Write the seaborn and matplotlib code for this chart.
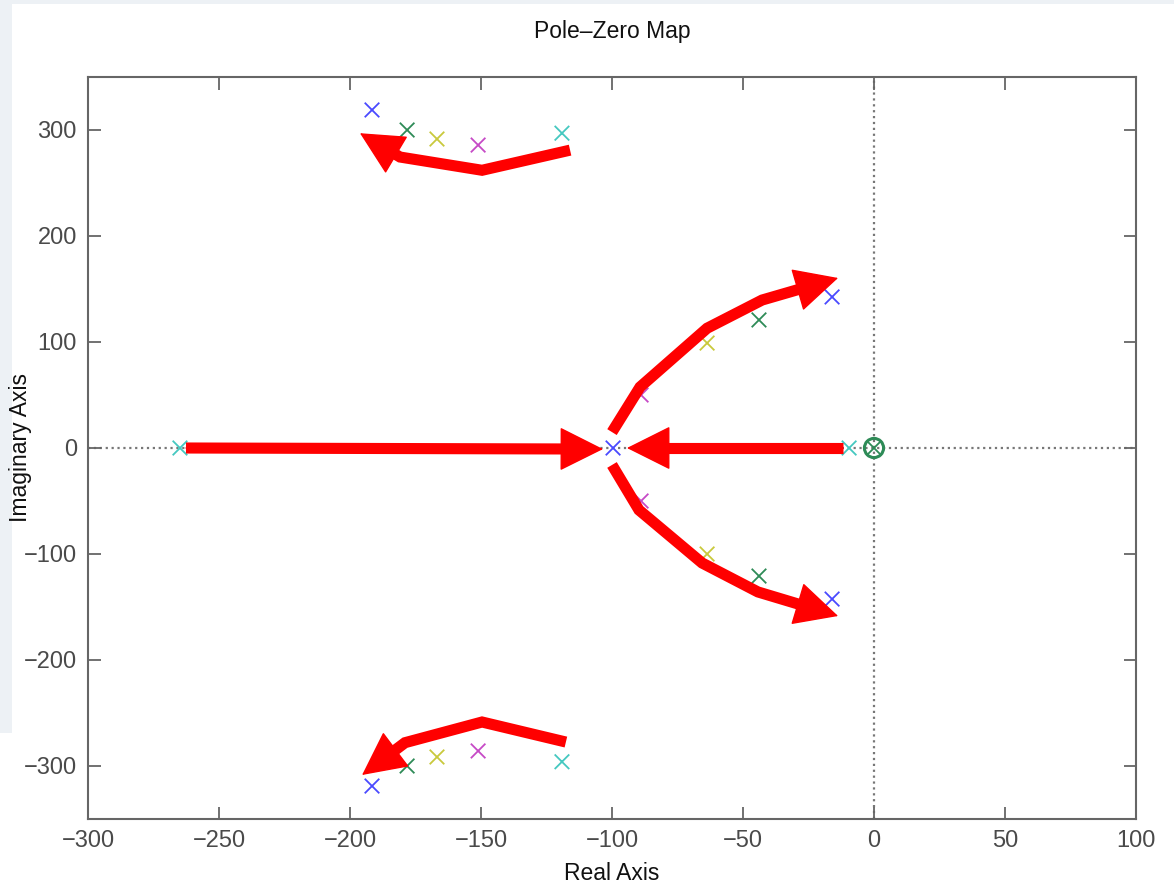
import numpy as np
import pandas as pd
import matplotlib
matplotlib.use("Agg")
import matplotlib.pyplot as plt
import seaborn as sns
from matplotlib.patches import FancyArrowPatch, Rectangle

# poles (real, imag) per colour group
blue_re = [-191.6, -16.0, -99.6, -16.0, -191.6]
blue_im = [318.9, 142.5, 0.0, -142.5, -318.9]
green_re = [-178.2, -43.9, 0.0, -43.9, -178.2]
green_im = [300.0, 120.8, 0.0, -120.8, -300.0]
yellow_re = [-166.8, -63.7, -63.7, -166.8]
yellow_im = [291.5, 99.0, -100.0, -291.5]
magenta_re = [-151.1, -88.9, -88.9, -151.1]
magenta_im = [285.8, 50.0, -50.0, -285.8]
cyan_re = [-119.1, -9.5, -264.9, -119.1]
cyan_im = [297.0, 0.0, 0.0, -296.0]

zero_re = [0.0]
zero_im = [0.0]

# hand drawn red arrows (polyline, last point = tip)
arrow_paths = [
    [(-116.0, 281.0), (-149.6, 262.0), (-180.9, 274.5), (-196.2, 297.0)],
    [(-117.6, -277.4), (-149.6, -258.5), (-179.0, -278.0), (-195.4, -308.5)],
    [(-100.0, 15.0), (-89.3, 57.5), (-63.7, 113.0), (-42.7, 139.6), (-13.7, 160.4)],
    [(-100.0, -16.0), (-89.7, -58.5), (-65.6, -108.5), (-44.3, -135.8), (-13.7, -158.5)],
    [(-262.6, 0.0), (-103.4, -1.0)],
    [(-11.8, 0.0), (-94.3, 0.0)],
]

x_ticks = [-300, -250, -200, -150, -100, -50, 0, 50, 100]
y_ticks = [-300, -200, -100, 0, 100, 200, 300]

groups = {
    "blue": (blue_re, blue_im),
    "green": (green_re, green_im),
    "yellow": (yellow_re, yellow_im),
    "magenta": (magenta_re, magenta_im),
    "cyan": (cyan_re, cyan_im),
}
palette = {"blue": "#4a4aff", "green": "#2e8b57", "yellow": "#c9c93c",
           "magenta": "#c64ac6", "cyan": "#45c8c0"}

rows = []
for name, (re, im) in groups.items():
    for r, i in zip(re, im):
        rows.append({"re": r, "im": i, "grp": name})
poles = pd.DataFrame(rows)

sns.set_theme(style="white")
plt.rcParams["font.family"] = ["Liberation Sans", "DejaVu Sans"]

fig = plt.figure(figsize=(11.74, 8.84), dpi=100, facecolor="white")
# light slide background showing along the top and left edges
bg = "#edf1f5"
fig.patches.append(Rectangle((0, 1 - 4 / 884), 1, 4 / 884, transform=fig.transFigure,
                             facecolor=bg, edgecolor="none", zorder=-10))
fig.patches.append(Rectangle((0, 151 / 884), 12 / 1174, 1, transform=fig.transFigure,
                             facecolor=bg, edgecolor="none", zorder=-10))
ax = fig.add_axes([88 / 1174, 65 / 884, 1048 / 1174, 742 / 884])
ax.set_facecolor("white")

ax.axhline(0, color="#777777", ls=":", lw=1.6, zorder=0)
ax.axvline(0, color="#777777", ls=":", lw=1.6, zorder=0)

sns.scatterplot(data=poles, x="re", y="im", hue="grp", palette=palette, marker="x",
                s=110, linewidth=1.3, legend=False, ax=ax, zorder=3)
ax.scatter(zero_re, zero_im, s=190, facecolors="none", edgecolors="#2e8b57",
           linewidths=2.2, zorder=3)
ax.set_xlim(-300, 100)
ax.set_ylim(-350, 350)

to_px = ax.transData
for path in arrow_paths:
    pts = np.array(path)
    # shaft ends ~20 px short of the tip, the head covers that part
    p_tip = to_px.transform(pts[-1])
    p_prev = to_px.transform(pts[-2])
    d = p_tip - p_prev
    base = to_px.inverted().transform(p_tip - d / np.hypot(*d) * 20)
    shaft = np.vstack([pts[:-1], base])
    ax.plot(shaft[:, 0], shaft[:, 1], color="red", lw=8, solid_capstyle="butt",
            solid_joinstyle="miter", zorder=4)
    arr = FancyArrowPatch(tuple(pts[-2]), tuple(pts[-1]),
                          arrowstyle="-|>,head_length=2.9,head_width=1.45",
                          mutation_scale=10, color="red", lw=1, shrinkA=0, shrinkB=0,
                          zorder=4)
    ax.add_patch(arr)

ax.set_xticks(x_ticks)
ax.set_yticks(y_ticks)
ax.set_xticklabels([f"{t}".replace("-", "\u2212") for t in x_ticks])
ax.set_yticklabels([f"{t}".replace("-", "\u2212") for t in y_ticks])
ax.tick_params(direction="in", length=9, width=1.3, color="#666666", labelcolor="#4a4a4a",
               labelsize=17, top=True, right=True, bottom=True, left=True, pad=8)
for sp in ax.spines.values():
    sp.set_visible(True)
    sp.set_color("#666666")
    sp.set_linewidth(1.5)

ax.set_title("Pole\u2013Zero Map", fontsize=16.5, pad=28, color="#111111")
ax.set_xlabel("Real Axis", fontsize=16.5, color="#111111", labelpad=7)
ax.set_ylabel("Imaginary Axis", fontsize=16.5, color="#111111", labelpad=-6)

fig.savefig("out.png", dpi=100, facecolor=fig.get_facecolor())
